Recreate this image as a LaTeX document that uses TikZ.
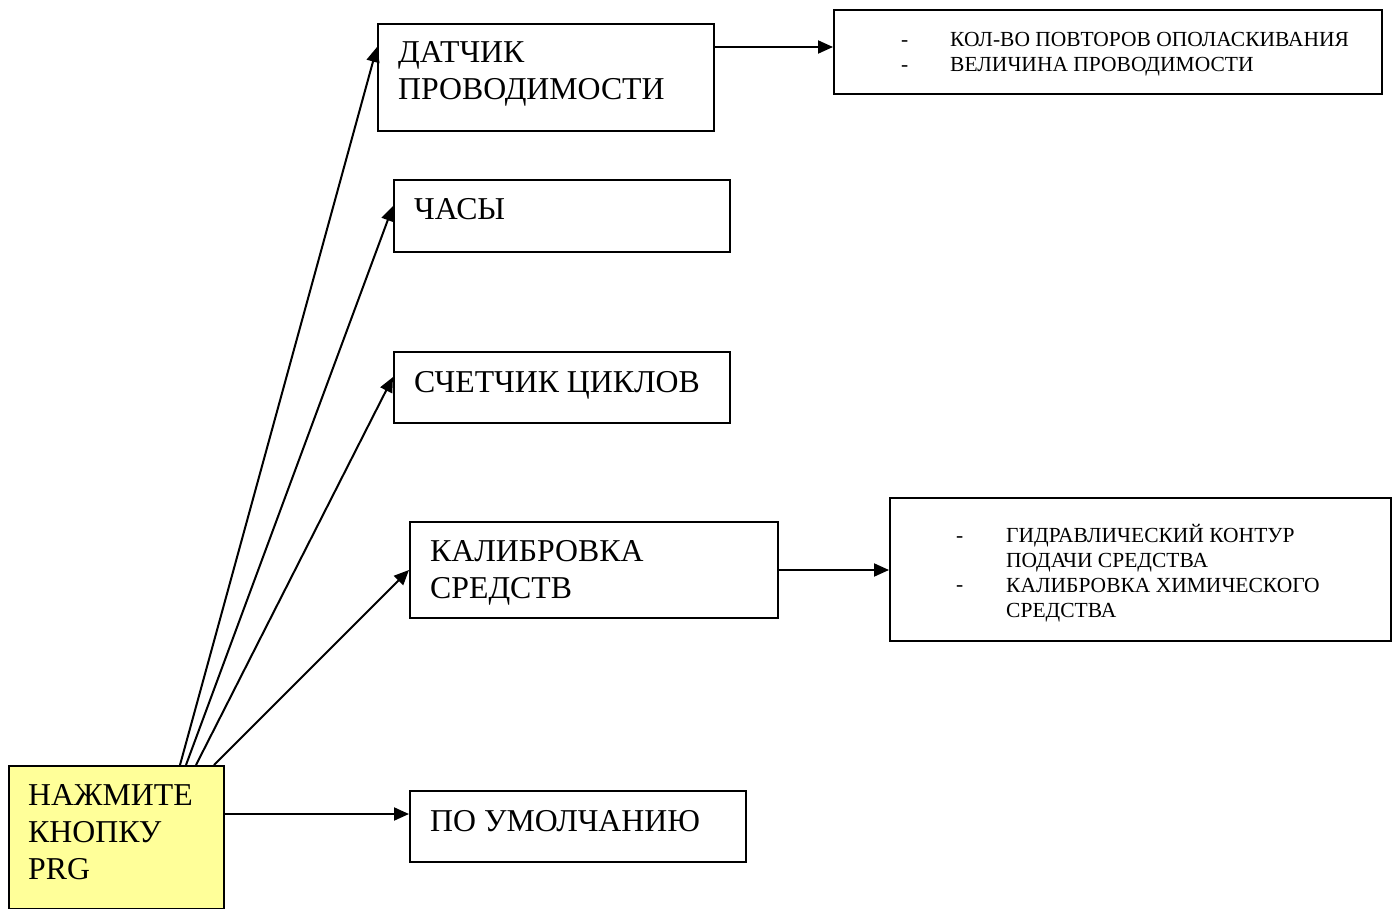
\documentclass[tikz,border=0pt]{standalone}
\usepackage{fontspec}
\setmainfont{Liberation Serif}
\usetikzlibrary{arrows.meta,calc}
\definecolor{prgyellow}{HTML}{FFFF99}
\tikzset{
  box/.style={draw=black, line width=2pt, inner sep=0pt, anchor=north west},
  big/.style={anchor=base west, inner sep=0pt, align=left, font=\fontsize{31.8}{37}\selectfont},
  small/.style={anchor=base west, inner sep=0pt, align=left, font=\fontsize{21.5}{25}\selectfont},
  conn/.style={line width=2pt, -{Triangle[length=15pt,width=13pt]}}
}
\begin{document}
\begin{tikzpicture}[x=1pt,y=-1pt]
\useasboundingbox (0,0) rectangle (1399,909);
% boxes
\node[box, minimum width=336, minimum height=107] (dat) at (377,23) {};
\node[box, minimum width=548, minimum height=84] (kol) at (833,9) {};
\node[box, minimum width=336, minimum height=72] (chas) at (393,179) {};
\node[box, minimum width=336, minimum height=71] (sch) at (393,351) {};
\node[box, minimum width=368, minimum height=96] (kal) at (409,521) {};
\node[box, minimum width=501, minimum height=143] (gid) at (889,497) {};
\node[box, minimum width=336, minimum height=71] (pou) at (409,790) {};
\node[box, fill=prgyellow, minimum width=215, minimum height=143] (prg) at (8,765) {};
% texts (multi-line nodes: base = last line's baseline)
\node[big] (tdat) at (398,100) {ДАТЧИК\\ПРОВОДИМОСТИ};
\node[big] (tchas) at (414,220) {ЧАСЫ};
\node[big] (tsch) at (414,392) {СЧЕТЧИК ЦИКЛОВ};
\node[big] (tkal) at (430,598) {КАЛИБРОВКА\\СРЕДСТВ};
\node[big] (tpou) at (430,831) {ПО УМОЛЧАНИЮ};
\node[big] (tprg) at (28,879) {НАЖМИТЕ\\КНОПКУ\\PRG};
\node[small] (dk) at (901,72) {-\\-};
\node[small] (tkol) at (950,72) {КОЛ-ВО ПОВТОРОВ ОПОЛАСКИВАНИЯ\\ВЕЛИЧИНА ПРОВОДИМОСТИ};
\node[small] (dg1) at (956,542) {-};
\node[small] (dg2) at (956,591) {-};
\node[small] (tgid) at (1006,617) {ГИДРАВЛИЧЕСКИЙ КОНТУР\\ПОДАЧИ СРЕДСТВА\\КАЛИБРОВКА ХИМИЧЕСКОГО\\СРЕДСТВА};
% connectors
\draw[conn] ($(prg.north west)+(172,0)$) -- ($(dat.north west)+(0,24)$);
\draw[conn] ($(prg.north west)+(178,0)$) -- ($(chas.north west)+(0,27)$);
\draw[conn] ($(prg.north west)+(188,0)$) -- ($(sch.north west)+(0,26)$);
\draw[conn] ($(prg.north west)+(206,0)$) -- ($(kal.north west)+(0,49)$);
\draw[conn] ($(prg.north east)+(0,49)$) -- ($(pou.north west)+(0,24)$);
\draw[conn] ($(dat.north east)+(0,24)$) -- ($(kol.north west)+(0,38)$);
\draw[conn] ($(kal.north east)+(0,49)$) -- ($(gid.north west)+(0,73)$);
\end{tikzpicture}
\end{document}
